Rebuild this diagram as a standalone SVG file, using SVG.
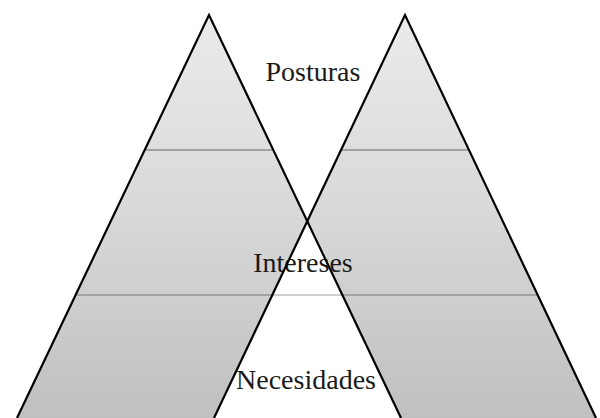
<svg xmlns="http://www.w3.org/2000/svg" width="600" height="418" viewBox="0 0 600 418">
  <defs>
    <linearGradient id="shade" gradientUnits="userSpaceOnUse" x1="0" y1="15" x2="0" y2="418">
      <stop offset="0" stop-color="#ebebeb"/>
      <stop offset="0.5" stop-color="#d8d8d8"/>
      <stop offset="1" stop-color="#c0c0c0"/>
    </linearGradient>
  </defs>
  <style>
    .fill { fill: url(#shade); stroke: none; }
    .edge { fill: none; stroke: #000; stroke-width: 2.2; stroke-linejoin: miter; }
    .band { stroke: #a3a3a3; stroke-width: 2; }
    .band-light { stroke: #d0d0d0; stroke-width: 2; }
    .label { font-family: "Liberation Serif", "Times New Roman", serif; font-size: 28px; fill: #1a1a1a; text-anchor: middle; }
  </style>
  <rect width="600" height="418" fill="#ffffff"/>
  <g id="left-pyramid-fill">
    <polygon class="fill" points="209,15 17,418 401,418"/>
  </g>
  <g id="right-pyramid-fill">
    <polygon class="fill" points="405,15 214,418 596,418"/>
  </g>
  <g id="overlap">
    <polygon fill="#ffffff" points="307.3,221.2 214,418 401,418"/>
  </g>
  <g id="bands">
    <line class="band" x1="145" y1="150" x2="273" y2="150"/>
    <line class="band" x1="341" y1="150" x2="469" y2="150"/>
    <line class="band" x1="76" y1="295" x2="272" y2="295"/>
    <line class="band-light" x1="272" y1="295" x2="342" y2="295"/>
    <line class="band" x1="342" y1="295" x2="538" y2="295"/>
  </g>
  <g id="labels">
    <text class="label" x="313" y="81">Posturas</text>
    <text class="label" x="303" y="272">Intereses</text>
    <text class="label" x="306" y="389">Necesidades</text>
  </g>
  <g id="outlines">
    <polyline class="edge" points="17,418 209,15 401,418"/>
    <polyline class="edge" points="214,418 405,15 596,418"/>
  </g>
</svg>
